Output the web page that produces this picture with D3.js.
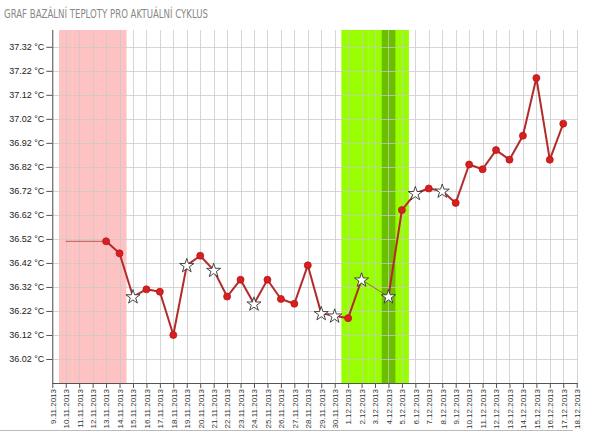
<!DOCTYPE html>
<html><head><meta charset="utf-8">
<script src="https://cdn.jsdelivr.net/npm/d3@7"></script>
<style>body{margin:0;background:#fff}svg{display:block}</style>
</head><body><svg id="c" width="600" height="432"></svg>
<script>
const title = "GRAF BAZÁLNÍ TEPLOTY PRO AKTUÁLNÍ CYKLUS";
const dates = ["9.11.2013","10.11.2013","11.11.2013","12.11.2013","13.11.2013","14.11.2013","15.11.2013","16.11.2013","17.11.2013","18.11.2013","19.11.2013","20.11.2013","21.11.2013","22.11.2013","23.11.2013","24.11.2013","25.11.2013","26.11.2013","27.11.2013","28.11.2013","29.11.2013","30.11.2013","1.12.2013","2.12.2013","3.12.2013","4.12.2013","5.12.2013","6.12.2013","7.12.2013","8.12.2013","9.12.2013","10.12.2013","11.12.2013","12.12.2013","13.12.2013","14.12.2013","15.12.2013","16.12.2013","17.12.2013","18.12.2013"];
const temps = [null,36.51,null,null,36.51,36.46,36.28,36.31,36.30,36.12,36.41,36.45,36.39,36.28,36.35,36.25,36.35,36.27,36.25,36.41,36.21,36.20,36.19,36.35,null,36.28,36.64,36.71,36.73,36.72,36.67,36.83,36.81,36.89,36.85,36.95,37.19,36.85,37.00,null];
const markers = ["","","","","dot","dot","star","dot","dot","dot","star","dot","star","dot","dot","star","dot","dot","dot","dot","star","star","dot","star","","star","dot","star","dot","star","dot","dot","dot","dot","dot","dot","dot","dot","dot",""];
const yTicks = [36.02,36.12,36.22,36.32,36.42,36.52,36.62,36.72,36.82,36.92,37.02,37.12,37.22,37.32];
const yDomain = [35.92, 37.39];
const menstruationDays = ["10.11.2013","11.11.2013","12.11.2013","13.11.2013","14.11.2013"];
const fertileDays = ["1.12.2013","2.12.2013","3.12.2013","4.12.2013","5.12.2013"];
const ovulationDays = ["4.12.2013"];

const svg = d3.select("#c");
const L = 52.3, R = 576.7, T = 30, B = 383;
const x = d3.scalePoint().domain(dates).range([L, R]);
const step = x.step();
const y = d3.scaleLinear().domain(yDomain).range([B, T]);

// title
svg.append("text").attr("x", 4).attr("y", 18)
  .attr("font-family", "'Liberation Sans Narrow','DejaVu Sans Condensed',sans-serif")
  .attr("font-size", 13).attr("fill", "#888")
  .attr("textLength", 204).attr("lengthAdjust", "spacingAndGlyphs")
  .text(title);

// bands
function band(days, color) {
  svg.append("g").selectAll("rect").data(days).join("rect")
    .attr("x", d => x(d) - step / 2).attr("width", step + 0.3)
    .attr("y", T).attr("height", B - T).attr("fill", color);
}
band(menstruationDays, "#ffc2c2");
band(fertileDays, "#99ff00");
band(ovulationDays, "#6cbf00");

// grid
const grid = svg.append("g").attr("stroke", "#c8c8c8").attr("stroke-opacity", 0.75).attr("stroke-width", 1);
grid.selectAll("line.v").data(dates).join("line").attr("class", "v")
  .attr("x1", d => Math.round(x(d)) + 0.5).attr("x2", d => Math.round(x(d)) + 0.5)
  .attr("y1", T).attr("y2", B);
grid.selectAll("line.h").data(yTicks).join("line").attr("class", "h")
  .attr("x1", L).attr("x2", R + 1)
  .attr("y1", d => Math.round(y(d)) + 0.5).attr("y2", d => Math.round(y(d)) + 0.5);

// axes
const yAxis = d3.axisLeft(y).tickValues(yTicks).tickSize(6).tickSizeOuter(0)
  .tickFormat(d => d3.format(".2f")(d) + " °C");
const gy = svg.append("g").attr("transform", `translate(${L},0)`).call(yAxis);
gy.select(".domain").attr("stroke", "#555").attr("d", `M0.5,${T}V${B}`);
gy.selectAll(".tick line").attr("stroke", "#555");
gy.selectAll(".tick text").attr("font-family", "'Liberation Sans',Arial,sans-serif")
  .attr("font-size", 9).attr("fill", "#222").attr("x", -8);

const xAxis = d3.axisBottom(x).tickSize(5).tickSizeOuter(0);
const gx = svg.append("g").attr("transform", `translate(0,${B})`).call(xAxis);
gx.select(".domain").attr("stroke", "#555").attr("d", `M${L},0.5H${R + 1}`);
gx.selectAll(".tick line").attr("stroke", "#555");
gx.selectAll(".tick text").attr("font-family", "'Liberation Sans',Arial,sans-serif")
  .attr("font-size", 8).attr("fill", "#333")
  .attr("transform", "rotate(-90)").attr("text-anchor", "end")
  .attr("x", -6).attr("y", 0).attr("dy", "0.35em");

// bottom border
svg.append("line").attr("x1", 0).attr("x2", 573).attr("y1", 430.5).attr("y2", 430.5)
  .attr("stroke", "#bbb");

// line segments
const pts = dates.map((d, i) => ({d, i, v: temps[i], m: markers[i]})).filter(p => p.v !== null);
const segs = [];
for (let k = 0; k < pts.length - 1; k++) {
  segs.push({a: pts[k], b: pts[k + 1], gap: pts[k + 1].i - pts[k].i > 1});
}
svg.append("g").selectAll("line").data(segs).join("line")
  .attr("x1", s => x(s.a.d)).attr("y1", s => y(s.a.v))
  .attr("x2", s => x(s.b.d)).attr("y2", s => y(s.b.v))
  .attr("stroke", s => s.gap ? "#8a3a2a" : "#b32a2a")
  .attr("stroke-opacity", s => s.gap ? 0.7 : 1)
  .attr("stroke-width", s => s.gap ? 1 : 2);

// markers
svg.append("g").selectAll("circle").data(pts.filter(p => p.m === "dot")).join("circle")
  .attr("cx", p => x(p.d)).attr("cy", p => y(p.v)).attr("r", 3.5)
  .attr("fill", "#d81e1e").attr("stroke", "#b51818").attr("stroke-width", 0.8);
const star = d3.symbol().type(d3.symbolStar).size(62);
svg.append("g").selectAll("path").data(pts.filter(p => p.m === "star")).join("path")
  .attr("transform", p => `translate(${x(p.d)},${y(p.v) + 0.5})`)
  .attr("d", star).attr("fill", "#fff").attr("stroke", "#333").attr("stroke-width", 0.9);
</script></body></html>
